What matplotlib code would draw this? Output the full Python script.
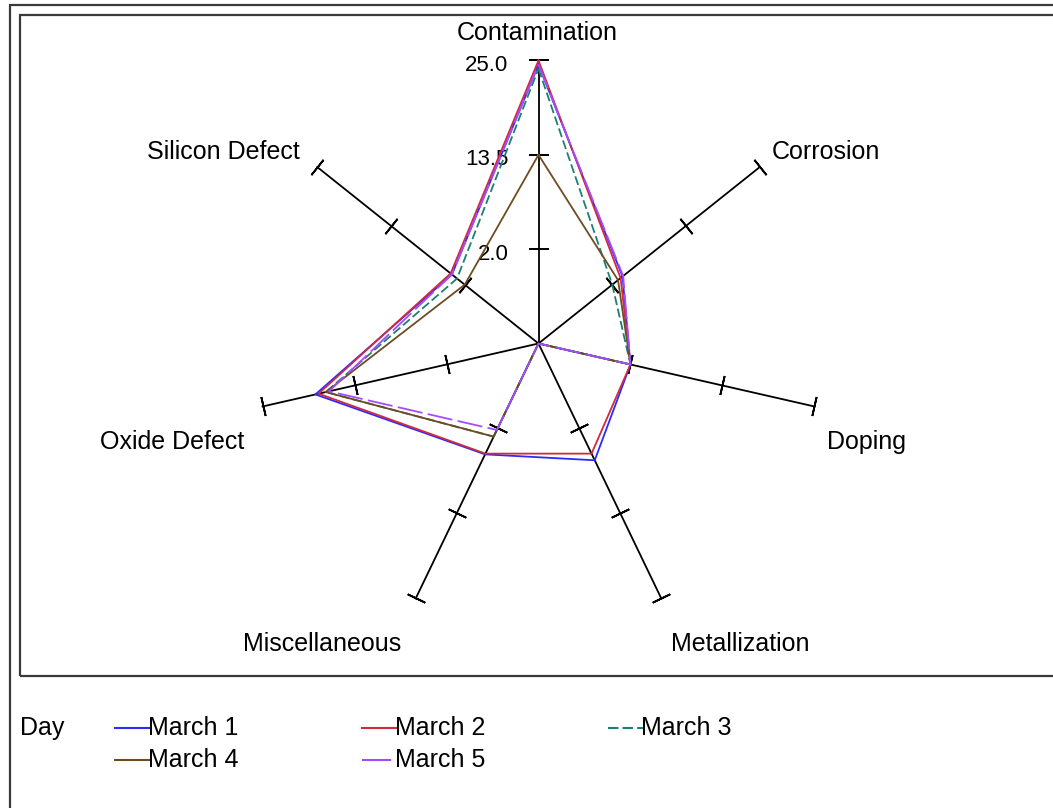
import numpy as np
import matplotlib.pyplot as plt
from matplotlib.lines import Line2D
from matplotlib.patches import Rectangle

# failure counts by cause, one list per day
causes = ['Contamination', 'Corrosion', 'Doping', 'Metallization',
          'Miscellaneous', 'Oxide Defect', 'Silicon Defect']
days = ['March 1', 'March 2', 'March 3', 'March 4', 'March 5']
march1 = [24.5, 3.6, 2.0, 6.3, 5.5, 18.4, 4.0]
march2 = [25.0, 3.3, 2.0, 5.4, 5.4, 18.0, 4.2]
march3 = [24.0, 2.0, 2.0, np.nan, 3.1, 17.1, 3.2]   # no metallization value
march4 = [13.5, 2.9, 2.0, np.nan, 3.1, 17.1, 2.0]
march5 = [24.5, 3.7, 2.0, np.nan, 2.2, 16.7, 4.0]
tick_values = [2.0, 13.5, 25.0]

colors = ['#2b2bff', '#d02a3c', '#1c8070', '#6e4c22', '#a64cff']
styles = ['-', '-', (0, (5, 2)), '-', (0, (14, 3))]

W, H = 1053, 808
plt.rcParams['font.family'] = ['Liberation Sans', 'DejaVu Sans']


def fx(x):
    return x / W


def fy(y):
    return 1 - y / H


fig = plt.figure(figsize=(W / 100, H / 100), dpi=100)

# frames: outer and inner, both running off the right/bottom edge
fig.add_artist(Rectangle((fx(9.5), fy(900)), 1.2, fy(5) - fy(900), transform=fig.transFigure,
                         fill=False, ec='#3a3a3a', lw=1.6))
fig.add_artist(Rectangle((fx(19.5), fy(675.5)), 1.2, fy(15) - fy(675.5), transform=fig.transFigure,
                         fill=False, ec='#3a3a3a', lw=1.6))

cx, cy, R = 538.5, 343.5, 283
ax = fig.add_axes([fx(cx - R), fy(cy + R), 2 * R / W, 2 * R / H], projection='polar')
ax.set_theta_zero_location('N')
ax.set_theta_direction(-1)
step = tick_values[1] - tick_values[0]
rmin, rmax = tick_values[0] - step, tick_values[-1]
ax.set_ylim(rmin, rmax)
ax.axis('off')

theta = np.arange(len(causes)) * 2 * np.pi / len(causes)

# spokes with cross ticks
for th in theta:
    ax.plot([th, th], [rmin, rmax], color='black', lw=1.3, zorder=2, clip_on=False)
    rot = 90 - np.degrees(th)
    ax.plot([th] * len(tick_values), tick_values, ls='none', marker=(2, 2, rot),
            ms=14, mec='black', mew=1.3, zorder=2, clip_on=False)

for i, v in enumerate(tick_values):
    ax.annotate(f'{v:.1f}', xy=(0, v), xytext=(-30, -5), textcoords='offset pixels',
                ha='right', va='center', fontsize=16)

series = [march1, march2, march3, march4, march5]
for vals, col, ls in zip(series, colors, styles):
    v = np.array(vals, dtype=float)
    v = np.where(np.isnan(v), rmin, v)   # missing goes to the centre
    ax.plot(np.append(theta, theta[0]), np.append(v, v[0]), color=col, ls=ls, lw=1.3,
            zorder=3, clip_on=False)

# axis labels
fs = 18
fig.text(fx(537), fy(33), causes[0], ha='center', va='center', fontsize=fs)
fig.text(fx(772), fy(152), causes[1], ha='left', va='center', fontsize=fs)
fig.text(fx(827), fy(442), causes[2], ha='left', va='center', fontsize=fs)
fig.text(fx(740), fy(644), causes[3], ha='center', va='center', fontsize=fs)
fig.text(fx(322), fy(644), causes[4], ha='center', va='center', fontsize=fs)
fig.text(fx(244), fy(442), causes[5], ha='right', va='center', fontsize=fs)
fig.text(fx(300), fy(152), causes[6], ha='right', va='center', fontsize=fs)

# legend
fig.text(fx(20), fy(728), 'Day', ha='left', va='center', fontsize=fs)
col_x = [115, 362, 608]
row_y = [728, 760]
for i, (day, col, ls) in enumerate(zip(days, colors, styles)):
    x0 = col_x[i % 3]
    y0 = row_y[i // 3]
    fig.add_artist(Line2D([fx(x0), fx(x0 + 35)], [fy(y0), fy(y0)], transform=fig.transFigure,
                          color=col, ls=ls, lw=1.5))
    fig.text(fx(x0 + 33), fy(y0), day, ha='left', va='center', fontsize=fs)

fig.savefig('out.png', dpi=100)
